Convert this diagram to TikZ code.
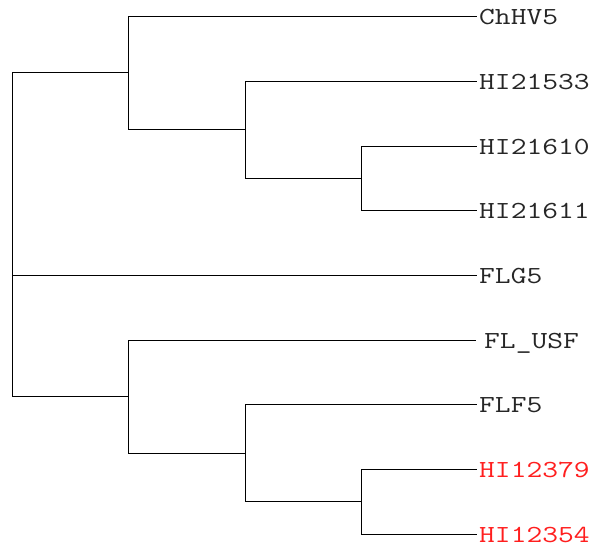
\documentclass[tikz,border=0pt]{standalone}
\usepackage{fontspec}
\setmonofont[FakeStretch=1.25]{Latin Modern Mono}
\begin{document}
\begin{tikzpicture}[x=1pt,y=-1pt,
  branch/.style={draw=black,line width=0.8pt},
  leaf/.style={anchor=base west,inner sep=0pt,font=\ttfamily\fontsize{24.5}{24.5}\selectfont,text=black!85},
  redleaf/.style={leaf,text={rgb,255:red,255;green,30;blue,30}}]
\useasboundingbox (0,0) rectangle (594,550);
% internal nodes
\coordinate (root) at (12,234);
\coordinate (A) at (128,72.5);
\coordinate (C) at (245,129.5);
\coordinate (D) at (361,178);
\coordinate (B) at (128,396.5);
\coordinate (E) at (245,453);
\coordinate (F) at (361,501.5);
% leaf ends
\coordinate (eChHV5) at (477,16);
\coordinate (eHI21533) at (477,81);
\coordinate (eHI21610) at (477,146);
\coordinate (eHI21611) at (477,210);
\coordinate (eFLG5) at (477,275);
\coordinate (eFLUSF) at (476,340);
\coordinate (eFLF5) at (477,404);
\coordinate (eHI12379) at (477,469);
\coordinate (eHI12354) at (477,534);
% labels
\node[leaf] (ChHV5) at (479,24) {ChHV5};
\node[leaf] (HI21533) at (479,89) {HI21533};
\node[leaf] (HI21610) at (479,154) {HI21610};
\node[leaf] (HI21611) at (479,218) {HI21611};
\node[leaf] (FLG5) at (479,283) {FLG5};
\node[leaf] (FLUSF) at (484,348) {FL\_USF};
\node[leaf] (FLF5) at (479,412) {FLF5};
\node[redleaf] (HI12379) at (479,477) {HI12379};
\node[redleaf] (HI12354) at (479,542) {HI12354};
% branches
\draw[branch] (root) |- (A);
\draw[branch] (root) |- (eFLG5);
\draw[branch] (root) |- (B);
\draw[branch] (A) |- (eChHV5);
\draw[branch] (A) |- (C);
\draw[branch] (C) |- (eHI21533);
\draw[branch] (C) |- (D);
\draw[branch] (D) |- (eHI21610);
\draw[branch] (D) |- (eHI21611);
\draw[branch] (B) |- (eFLUSF);
\draw[branch] (B) |- (E);
\draw[branch] (E) |- (eFLF5);
\draw[branch] (E) |- (F);
\draw[branch] (F) |- (eHI12379);
\draw[branch] (F) |- (eHI12354);
\end{tikzpicture}
\end{document}
